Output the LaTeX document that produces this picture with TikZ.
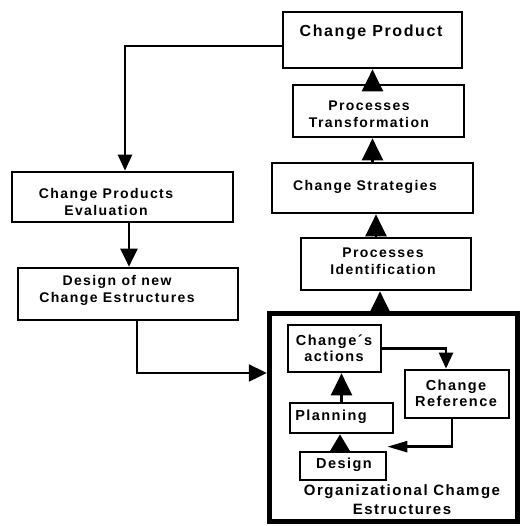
\documentclass[tikz,border=0pt]{standalone}
\usepackage{fontspec}
\setmainfont{Liberation Sans}[LetterSpace=10]
\usetikzlibrary{arrows.meta}
\begin{document}
\begin{tikzpicture}[x=1pt,y=-1pt,
  box/.style={draw, line width=2.7pt, inner sep=0pt},
  txt/.style={font=\bfseries\fontsize{14}{17}\selectfont, align=center, inner sep=0pt},
  itxt/.style={font=\bfseries\fontsize{14.5}{16}\selectfont, align=center, inner sep=0pt},
  arr/.style={line width=2.4pt, -{Triangle[length=22pt,width=21pt]}},
  arrm/.style={line width=2.4pt, -{Triangle[length=18pt,width=17pt]}},
  arrs/.style={line width=2.4pt, -{Triangle[length=16pt,width=14pt]}},
  arrn/.style={line width=2.4pt, -{Triangle[length=20pt,width=11pt]}},
]
\fill[white] (0,0) rectangle (527,525);
\useasboundingbox (0,0) rectangle (527,525);

% boxes
\node[box, minimum width=179pt, minimum height=56pt] (cp) at (372.5,40) {};
\node[box, minimum width=171pt, minimum height=52pt] (pt) at (378.5,111) {};
\node[box, minimum width=201pt, minimum height=50pt] (cs) at (372.5,188) {};
\node[box, minimum width=170pt, minimum height=52pt] (pi) at (386,264) {};
\node[box, minimum width=221pt, minimum height=50pt] (ev) at (122.5,197) {};
\node[box, minimum width=220pt, minimum height=52pt] (dn) at (128,294) {};
\node[draw, line width=5.5pt, inner sep=0pt, minimum width=248pt, minimum height=208pt] (org) at (393.5,417.5) {};
\node[box, minimum width=93pt, minimum height=47pt] (ca) at (334.5,348.5) {};
\node[box, minimum width=104pt, minimum height=48pt] (cr) at (457,394) {};
\node[box, minimum width=103pt, minimum height=30pt] (pl) at (341.5,418) {};
\node[box, minimum width=86pt, minimum height=28pt] (de) at (343,466) {};

% texts
\node[txt, font=\bfseries\fontsize{16}{18}\selectfont] (cpt) at (371,32) {Change Product};
\node[txt] (ptt) at (369,114) {Processes\\Transformation};
\node[txt] (cst) at (365,187) {Change Strategies};
\node[txt] (pit) at (383,261) {Processes\\Identification};
\node[txt] (evt) at (106,202) {Change Products\\Evaluation};
\node[txt] (dnt) at (117,290) {Design of new\\Change Estructures};
\node[itxt] (cat) at (334,348) {Change´s\\actions};
\node[itxt] (crt) at (456,393) {Change\\Reference};
\node[itxt] (plt) at (331,417) {Planning};
\node[itxt] (det) at (344,465) {Design};
\node[txt, font=\bfseries\fontsize{15}{19}\selectfont] (orgt) at (402,500) {Organizational Chamge\\Estructures};

% connectors
\draw[arrs] ([yshift=-6pt]cp.west) -| ([xshift=2.5pt]ev.north);
\draw[arrm] ([xshift=6.5pt]ev.south) -- ([xshift=1pt]dn.north);
\draw[arrm] ([xshift=9pt]dn.south) |- ([yshift=44.5pt]org.west);
\draw[arr] ([xshift=-6pt]pi.south |- org.north) -- ([xshift=-6pt]pi.south);
\draw[arr] ([xshift=3.5pt]cs.south |- pi.north) -- ([xshift=3.5pt]cs.south);
\draw[arr] (cs.north) -- (cs.north |- pt.south);
\draw[arr] (cp.south |- pt.north) -- (cp.south);
\draw[arrs] (ca.east) -| ([xshift=-11pt]cr.north);
\draw[arrn] ([xshift=-5pt]cr.south) |- ([yshift=4pt]de.north east);
\draw[arrm, -{Triangle[length=18pt,width=21pt]}] ([xshift=-3pt]de.north) -- ([xshift=-3pt]de.north |- pl.south);
\draw[arr] (pl.north) -- (pl.north |- ca.south);
\end{tikzpicture}
\end{document}
